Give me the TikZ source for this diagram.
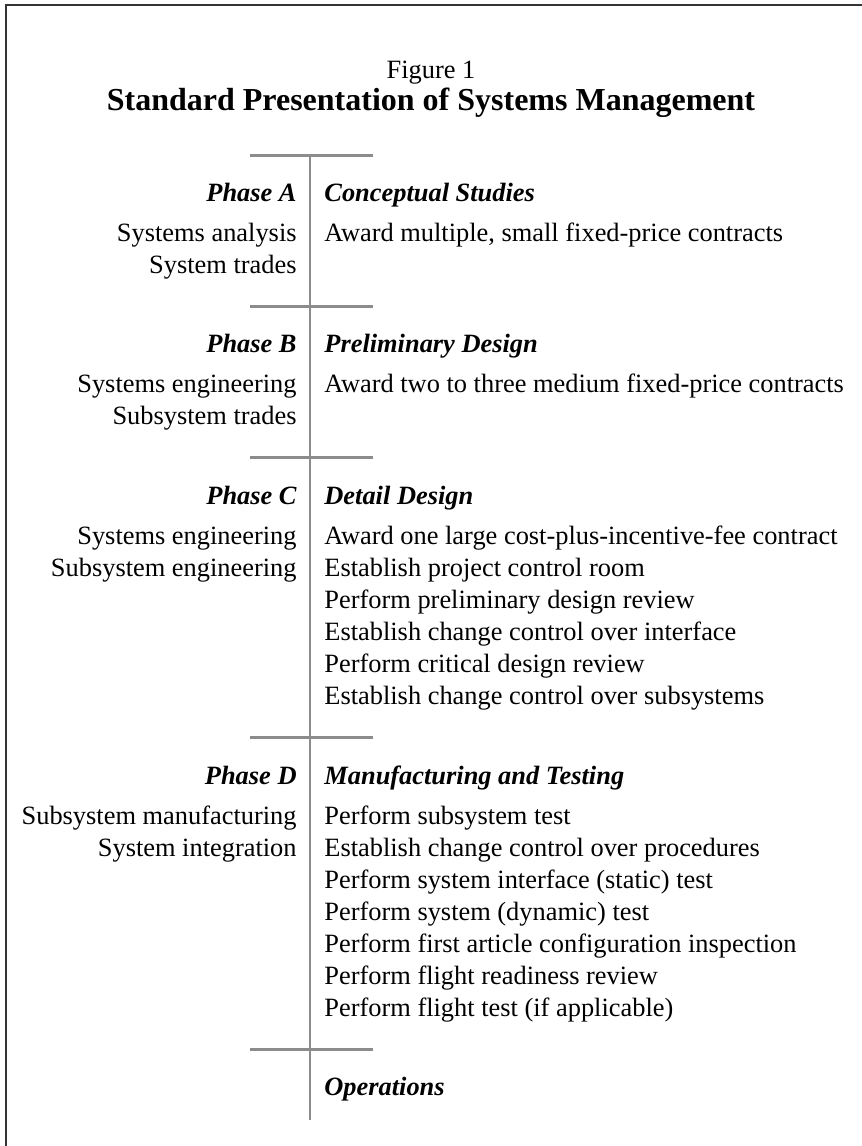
\documentclass[tikz,border=0pt]{standalone}
\usepackage{fontspec}
\setmainfont{Liberation Serif}
\usepackage{xcolor}
\usepackage{tikz}
\usetikzlibrary{positioning, calc}

\definecolor{axisgray}{HTML}{8C8C8C}
\definecolor{framegray}{HTML}{333333}

\begin{document}
\begin{tikzpicture}[
  x=0.5pt, y=-0.5pt,
  txt/.style={inner sep=0pt, font=\fontsize{13.2}{16}\selectfont},
  phase/.style={txt, anchor=base east, font=\fontsize{13.2}{16}\selectfont\bfseries\itshape},
  stage/.style={txt, anchor=base west, font=\fontsize{13.2}{16}\selectfont\bfseries\itshape},
  leftrow/.style={txt, anchor=base east},
  rightrow/.style={txt, anchor=base west},
  axis/.style={draw=axisgray, line width=1pt},
  tick/.style={draw=axisgray, line width=1.5pt},
]
  \useasboundingbox (0,0) rectangle (862,1146);
  \draw[framegray, line width=0.75pt] (6,1170) -- (6,5) -- (890,5);

  \node[txt, anchor=base] (fig) at (431,78) {Figure 1};
  \node[txt, anchor=base, font=\fontsize{16}{19}\selectfont\bfseries] (title) at (431,110) {Standard Presentation of Systems Management};

  % time line
  \coordinate (t0) at (310,155);
  \coordinate (t1) at (310,306);
  \coordinate (t2) at (310,457.7);
  \coordinate (t3) at (310,737.4);
  \coordinate (t4) at (310,1049);
  \coordinate (tend) at (310,1120);
  \draw[axis] (t0) -- (tend);
  \foreach \t in {t0,t1,t2,t3,t4}
    \draw[tick] ([xshift=-30pt]\t) -- ([xshift=31.5pt]\t);

  % Phase A
  \node[phase] (phA) at ([xshift=-6.5pt, yshift=-23.4pt]t0) {Phase A};
  \node[stage] (stA) at ([xshift=7pt, yshift=-23.4pt]t0) {Conceptual Studies};
  \foreach \s [count=\i] in {Systems analysis, System trades}
    \node[leftrow] (lA\i) at ([yshift={-20pt-(\i-1)*16pt}]phA.base east) {\s};
  \node[rightrow] (rA1) at ([yshift=-20pt]stA.base west) {Award multiple, small fixed-price contracts};

  % Phase B
  \node[phase] (phB) at ([xshift=-6.5pt, yshift=-23.4pt]t1) {Phase B};
  \node[stage] (stB) at ([xshift=7pt, yshift=-23.4pt]t1) {Preliminary Design};
  \foreach \s [count=\i] in {Systems engineering, Subsystem trades}
    \node[leftrow] (lB\i) at ([yshift={-20pt-(\i-1)*16pt}]phB.base east) {\s};
  \node[rightrow] (rB1) at ([yshift=-20pt]stB.base west) {Award two to three medium fixed-price contracts};

  % Phase C
  \node[phase] (phC) at ([xshift=-6.5pt, yshift=-23.4pt]t2) {Phase C};
  \node[stage] (stC) at ([xshift=7pt, yshift=-23.4pt]t2) {Detail Design};
  \foreach \s [count=\i] in {Systems engineering, Subsystem engineering}
    \node[leftrow] (lC\i) at ([yshift={-20pt-(\i-1)*16pt}]phC.base east) {\s};
  \foreach \s [count=\i] in {Award one large cost-plus-incentive-fee contract,
      Establish project control room, Perform preliminary design review,
      Establish change control over interface, Perform critical design review,
      Establish change control over subsystems}
    \node[rightrow] (rC\i) at ([yshift={-20pt-(\i-1)*16pt}]stC.base west) {\s};

  % Phase D
  \node[phase] (phD) at ([xshift=-6.5pt, yshift=-23.4pt]t3) {Phase D};
  \node[stage] (stD) at ([xshift=7pt, yshift=-23.4pt]t3) {Manufacturing and Testing};
  \foreach \s [count=\i] in {Subsystem manufacturing, System integration}
    \node[leftrow] (lD\i) at ([yshift={-20pt-(\i-1)*16pt}]phD.base east) {\s};
  \foreach \s [count=\i] in {Perform subsystem test,
      Establish change control over procedures,
      Perform system interface (static) test, Perform system (dynamic) test,
      Perform first article configuration inspection,
      Perform flight readiness review, Perform flight test (if applicable)}
    \node[rightrow] (rD\i) at ([yshift={-20pt-(\i-1)*16pt}]stD.base west) {\s};

  % Operations
  \node[stage] (stO) at ([xshift=7pt, yshift=-23.4pt]t4) {Operations};
\end{tikzpicture}
\end{document}
